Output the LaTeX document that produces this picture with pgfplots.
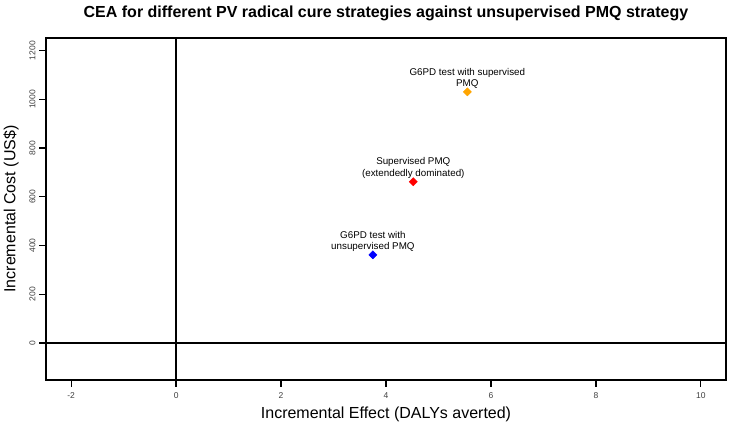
\documentclass[border=0pt]{standalone}
\usepackage{pgfplots}
\pgfplotsset{compat=1.18}
\usepackage{fontspec}
\setmainfont{Liberation Sans}
\begin{document}
\begin{tikzpicture}
\path[use as bounding box] (0,0) rectangle (730pt,423pt);
\begin{axis}[
  at={(46pt,43pt)}, anchor=south west,
  scale only axis, width=680pt, height=342pt,
  xmin=-2.48, xmax=10.48, ymin=-152, ymax=1252,
  axis line style={line width=1.5pt},
  xtick={-2,0,2,4,6,8,10},
  ytick={0,200,400,600,800,1000,1200},
  xtick pos=bottom, ytick pos=left,
  tick align=outside,
  tickwidth=6pt,
  xtick style={draw=black, line width=1.3pt},
  ytick style={draw=black, line width=1.3pt},
  /pgf/number format/assume math mode=true,
  /pgf/number format/1000 sep={},
  ticklabel style={font=\fontsize{8.5}{10}\selectfont, text=black!75},
  yticklabel style={rotate=90, anchor=south, yshift=1pt},
  xticklabel style={yshift=-3pt},
  xlabel={Incremental Effect (DALYs averted)},
  ylabel={Incremental Cost (US\$)},
  label style={font=\fontsize{16}{19}\selectfont},
  xlabel style={yshift=-1pt},
  every axis y label/.style={at={([xshift=-35pt]axis description cs:0,0.5)}, rotate=90, anchor=center, font=\fontsize{16}{19}\selectfont},
  title={\textbf{CEA for different PV radical cure strategies against unsupervised PMQ strategy}},
  title style={font=\fontsize{16}{19}\selectfont, yshift=8pt},
  clip=false,
]
\draw[line width=1.3pt] (axis cs:0,-152) -- (axis cs:0,1252);
\draw[line width=1.3pt] (axis cs:-2.48,0) -- (axis cs:10.48,0);
\addplot[only marks, mark=square*, mark size=2.9pt, mark options={rotate=45}, color={rgb,255:red,255;green,165;blue,0}] coordinates {(5.55,1031)};
\addplot[only marks, mark=square*, mark size=2.9pt, mark options={rotate=45}, color=red] coordinates {(4.52,662)};
\addplot[only marks, mark=square*, mark size=2.9pt, mark options={rotate=45}, color=blue] coordinates {(3.75,362)};
\node[anchor=south, align=center, inner sep=0pt, font=\fontsize{9.8}{11.5}\selectfont] at (axis cs:5.55,1031) [yshift=3pt] {G6PD test with supervised\\PMQ};
\node[anchor=south, align=center, inner sep=0pt, font=\fontsize{9.8}{11.5}\selectfont] at (axis cs:4.52,662) [yshift=3pt] {Supervised PMQ\\(extendedly dominated)};
\node[anchor=south, align=center, inner sep=0pt, font=\fontsize{9.8}{11.5}\selectfont] at (axis cs:3.75,362) [yshift=3pt] {G6PD test with\\unsupervised PMQ};
\end{axis}
\foreach \x in {71.19,176.12,281.06,386.0,490.9,595.9,700.8}{
  \draw[line width=1.3pt, black] (\x pt,43pt) -- (\x pt,36pt);
}
\foreach \y in {80.03,128.75,177.47,226.2,274.9,323.6,372.3}{
  \draw[line width=1.3pt, black] (46pt,\y pt) -- (39pt,\y pt);
}
\end{tikzpicture}
\end{document}
